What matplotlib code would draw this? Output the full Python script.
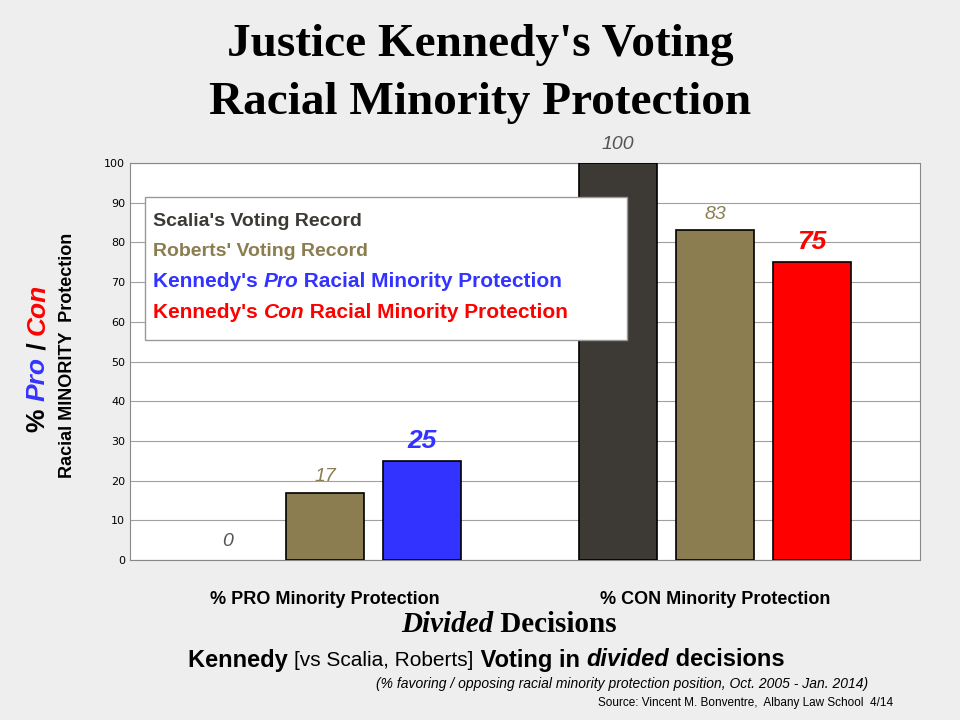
import matplotlib
matplotlib.use("Agg")
import matplotlib.pyplot as plt
import numpy as np

groups = ["% PRO Minority Protection", "% CON Minority Protection"]
scalia = [0, 100]
roberts = [17, 83]
kennedy = [25, 75]
yticks = list(range(0, 101, 10))

C_S, C_R, C_B, C_RED = "#3d3935", "#8b7d4f", "#3333ff", "#ff0000"

fig = plt.figure(figsize=(9.6, 7.2), dpi=100)
fig.patch.set_facecolor("#eeeeee")
W, H = 960, 720
ax = fig.add_axes([130/W, 1-560/H, 790/W, 397/H])
x = np.arange(len(groups))
off, bw = 0.249, 0.2
bs = ax.bar(x-off, scalia, bw, color=C_S, edgecolor="black", lw=1.2, zorder=3)
for b, v in zip(bs, scalia):
    if v == 0: b.set_linewidth(0)
ax.bar(x, roberts, bw, color=C_R, edgecolor="black", lw=1.2, zorder=3)
ax.bar(x+off, kennedy, bw, color=[C_B, C_RED], edgecolor="black", lw=1.2, zorder=3)
ax.set_xlim(-0.5, 1.526); ax.set_ylim(0, 100)
ax.set_yticks(yticks); ax.tick_params(axis='y', labelsize=8, length=0)
ax.set_xticks(x); ax.set_xticklabels(groups, fontsize=13, fontweight='bold', family="Liberation Sans")
ax.tick_params(axis='x', length=0, pad=22)
ax.grid(axis='y', color="#a0a0a0", lw=0.8, zorder=0)
for s in ax.spines.values(): s.set_color("#888888")
for i in range(2):
    ax.text(x[i]-off, scalia[i]+2.5, str(scalia[i]), ha='center', va='bottom', fontsize=14, style='italic', color="#555555", family="Liberation Sans", clip_on=False)
    ax.text(x[i], roberts[i]+2, str(roberts[i]), ha='center', va='bottom', fontsize=14, style='italic', color=C_R, family="Liberation Sans")
    ax.text(x[i]+off, kennedy[i]+2, str(kennedy[i]), ha='center', va='bottom', fontsize=19, style='italic', fontweight='bold', color=[C_B, C_RED][i], family="Liberation Sans")

fig.canvas.draw()
r = fig.canvas.get_renderer()
def seq(px, py, pieces, rot=0):
    pos = 0
    for t, kw in pieces:
        if rot == 0:
            tx = fig.text((px+pos)/W, 1-py/H, t, va='center', ha='left', **kw)
        else:
            tx = fig.text(px/W, 1-(py-pos)/H, t, va='bottom', ha='center', rotation=90, **kw)
        bb = tx.get_window_extent(r)
        pos += bb.width if rot == 0 else bb.height

from matplotlib.patches import Rectangle
fig.patches.append(Rectangle((145/W, 1-340/H), 482/W, 143/H, transform=fig.transFigure, facecolor='white', edgecolor='#999999', lw=1, zorder=5))
F = dict(family="Liberation Sans", fontweight='bold', zorder=6)
seq(153, 221, [("Scalia's Voting Record", dict(color=C_S, fontsize=14, **F))])
seq(153, 251, [("Roberts' Voting Record", dict(color=C_R, fontsize=14, **F))])
seq(153, 282, [("Kennedy's ", dict(color=C_B, fontsize=15, **F)), ("Pro", dict(color=C_B, fontsize=15, style='italic', **F)), (" Racial Minority Protection", dict(color=C_B, fontsize=15, **F))])
seq(153, 312, [("Kennedy's ", dict(color=C_RED, fontsize=15, **F)), ("Con", dict(color=C_RED, fontsize=15, style='italic', **F)), (" Racial Minority Protection", dict(color=C_RED, fontsize=15, **F))])

seq(38, 432, [("% ", dict(color='black', fontsize=19, **F)), ("Pro", dict(color=C_B, fontsize=19, style='italic', **F)), (" / ", dict(color='black', fontsize=19, **F)), ("Con", dict(color=C_RED, fontsize=19, style='italic', **F))], rot=90)
fig.text(67/W, 1-355/H, "Racial MINORITY  Protection", rotation=90, ha='center', va='center', fontsize=13, **F)

TF = dict(family="Liberation Serif", fontweight='bold', ha='center', va='center')
fig.text(480/W, 1-45/H, "Justice Kennedy's Voting", fontsize=34, **TF)
fig.text(480/W, 1-103/H, "Racial Minority Protection", fontsize=34, **TF)

SF = dict(family="Liberation Serif", fontweight='bold', fontsize=21)
seq(401, 625, [("Divided", dict(style='italic', **SF)), (" Decisions", dict(**SF))])
B = dict(family="Liberation Sans", fontsize=17, fontweight='bold')
seq(188, 660, [("Kennedy ", B), ("[vs Scalia, Roberts]", dict(family="Liberation Sans", fontsize=15)), (" Voting in ", B), ("divided", dict(style='italic', **B)), (" decisions", B)])
fig.text(868/W, 1-684/H, "(% favoring / opposing racial minority protection position, Oct. 2005 - Jan. 2014)", ha='right', va='center', fontsize=10, style='italic', family="Liberation Sans")
fig.text(893/W, 1-703/H, "Source: Vincent M. Bonventre,  Albany Law School  4/14", ha='right', va='center', fontsize=8.5, family="Liberation Sans")

fig.savefig("out.png", dpi=100, facecolor=fig.get_facecolor())
